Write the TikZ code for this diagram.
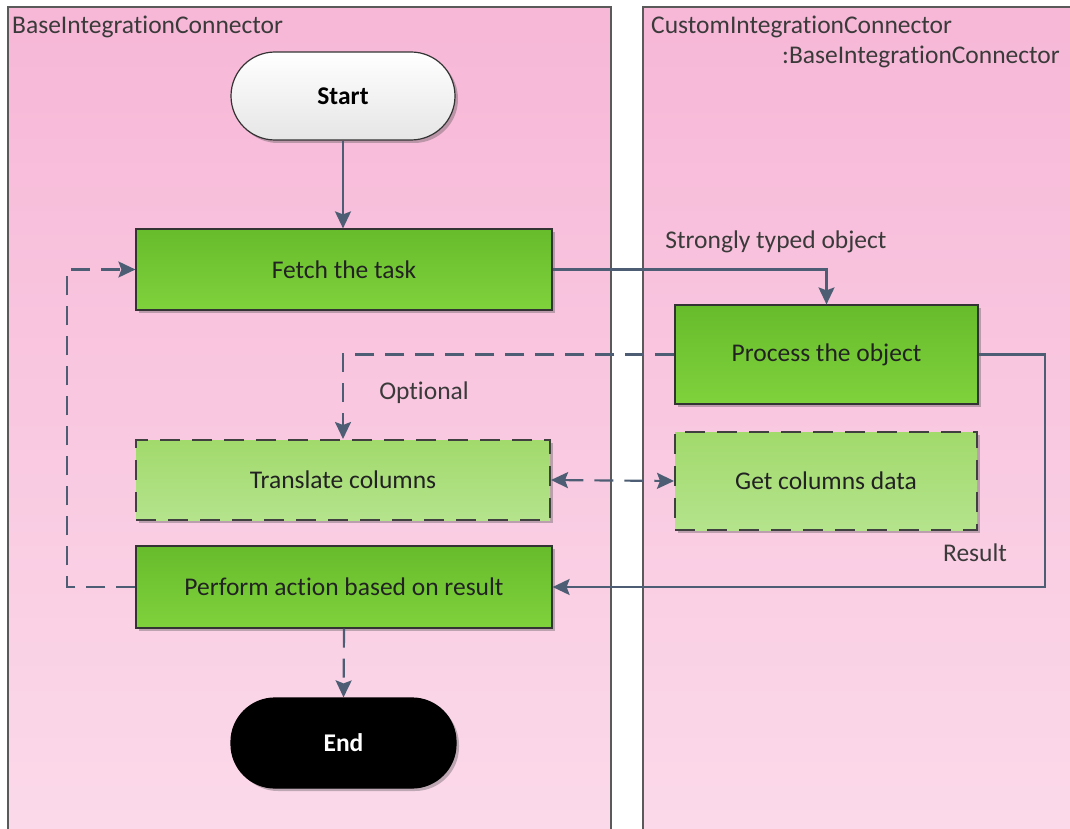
\documentclass[tikz,border=0pt]{standalone}
\usepackage{fontspec}
\setmainfont{Carlito}[Ligatures={NoCommon}]
\usetikzlibrary{arrows.meta,shadows}
\definecolor{pinktop}{HTML}{F7B7D7}
\definecolor{pinkbot}{HTML}{FBDAEA}
\definecolor{lanebd}{HTML}{5A5A5A}
\definecolor{greentop}{HTML}{67BC2C}
\definecolor{greenbot}{HTML}{80D23C}
\definecolor{lgreentop}{HTML}{A2DA6C}
\definecolor{lgreenbot}{HTML}{B4E38C}
\definecolor{conn}{HTML}{4D5E74}
\definecolor{txt}{HTML}{222222}
\definecolor{lbl}{HTML}{3A3A3A}
\tikzset{
  lane/.style={top color=pinktop,bottom color=pinkbot,draw=lanebd,line width=2pt},
  lanelabel/.style={font=\fontsize{25.5}{28}\selectfont,text=lbl,inner sep=0pt},
  boxshadow/.style={drop shadow={shadow xshift=3pt,shadow yshift=-3pt,opacity=0.35,fill=black!70}},
  solidbox/.style={rectangle,top color=greentop,bottom color=greenbot,draw=black!80,line width=1.2pt,
    inner sep=0pt,font=\fontsize{25.5}{28}\selectfont,text=txt,boxshadow},
  optbox/.style={rectangle,top color=lgreentop,bottom color=lgreenbot,draw=black!75,line width=2pt,
    dash pattern=on 20pt off 12pt,inner sep=0pt,font=\fontsize{25.5}{28}\selectfont,text=txt,boxshadow},
  terminal/.style={rectangle,rounded corners=44pt,inner sep=0pt,line width=1.2pt,
    font=\bfseries\fontsize{25.5}{28}\selectfont,boxshadow},
  tip/.tip={Stealth[length=17pt,width=16pt,inset=3pt]},
  flow/.style={draw=conn,line width=2.2pt,-tip},
  dflow/.style={flow,dash pattern=on 19pt off 11pt},
  clabel/.style={font=\fontsize{25.5}{28}\selectfont,text=lbl,inner sep=0pt}
}
\begin{document}
\begin{tikzpicture}[x=1pt,y=-1pt]
\useasboundingbox (0,0) rectangle (1070,829);
\fill[white] (0,0) rectangle (1070,829);
\begin{scope}
\clip (0,0) rectangle (1070,829);
\draw[lane] (8,7) rectangle (611,845);
\draw[lane] (643,7) rectangle (1085,845);
\end{scope}
\node[lanelabel,anchor=west] (lane1) at (12,27) {BaseIntegrationConnector};
\node[lanelabel,anchor=west] (lane2a) at (651,27) {CustomIntegrationConnector};
\node[lanelabel,anchor=east] (lane2b) at (1060,57) {:BaseIntegrationConnector};

\node[terminal,top color=white,bottom color=black!10,draw=black!80,minimum width=224pt,minimum height=88pt] (start) at (343,96) {Start};
\node[solidbox,minimum width=416pt,minimum height=81pt] (fetch) at (344,269.5) {Fetch the task};
\node[solidbox,minimum width=303pt,minimum height=99pt] (proc) at (826.5,354.5) {Process the object};
\node[optbox,minimum width=414pt,minimum height=80pt] (trans) at (343,480) {Translate columns};
\node[optbox,minimum width=302pt,minimum height=98pt] (get) at (826,481) {Get columns data};
\node[solidbox,minimum width=416pt,minimum height=82pt] (perf) at (344,587) {Perform action based on result};
\node[terminal,fill=black,draw=black,text=white,minimum width=225pt,minimum height=90pt] (end) at (343.5,743) {End};

\coordinate (r1) at (1045,354.5);
\coordinate (l1) at (67,587);

\draw[flow] (start) -- (start |- fetch.north);
\draw[flow] (fetch.east) -| (proc.north);
\draw[dflow] (proc.west) -| (trans.north);
\draw[dflow,tip-tip] (trans.east) -- (get.west);
\draw[flow] (proc.east) -- (r1) |- (perf.east);
\draw[dflow] (perf.west) -- (l1) |- (fetch.west);
\draw[dflow] (perf.south) -- (end.north);

\node[clabel] (lab1) at (776,242) {Strongly typed object};
\node[clabel] (lab2) at (424,393) {Optional};
\node[clabel] (lab3) at (975,553) {Result};
\end{tikzpicture}
\end{document}
